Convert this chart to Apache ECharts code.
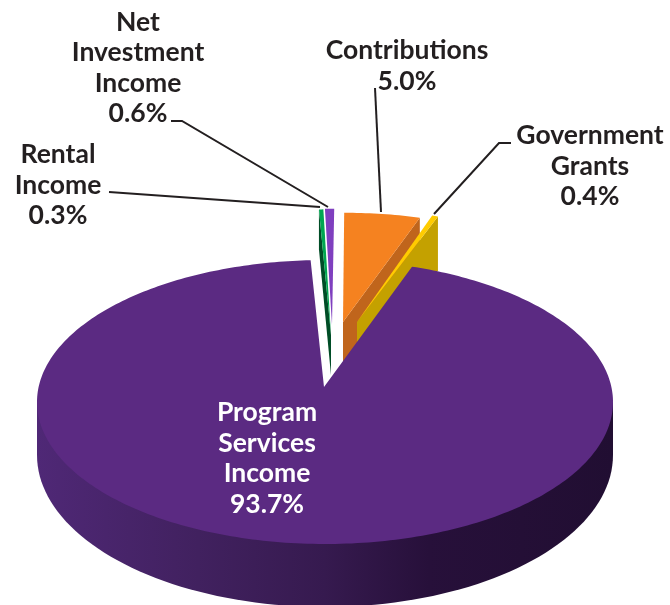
<!DOCTYPE html>
<html><head><meta charset="utf-8">
<style>html,body{margin:0;padding:0;background:#fff}#c{width:670px;height:605px}</style>
<script src="https://cdn.jsdelivr.net/npm/echarts@6/dist/echarts.min.js"></script>
</head><body><div id="c"></div>
<script>
// ---- data ----
const categories = ['Program\nServices\nIncome', 'Rental\nIncome', 'Net\nInvestment\nIncome', 'Contributions', 'Government\nGrants'];
const shares = [93.7, 0.3, 0.6, 5.0, 0.4];
const topColors = ['#5b2a82', '#00a651', '#7f3fbf', '#f58220', '#ffcc00'];
const cutColors = ['#5b2a82', '#004d26', '#7f3fbf', '#c0651c', '#c4a100'];
// ---- drawing geometry ----
const START_ANGLE = 19.5;
const CX = 325, CY = 402, RX = 288, RY = 142, TILT = 0.105;
const BASE = {cx: 325, cy: 455, rx: 288, ry: 152};
// where each slice is pulled to: apex, scale, rim shift, cut face depth at rim/apex, which edge shows its cut
const pulled = [
  {ax: 324, ay: 387, sx: 1, sy: 1, rim: 0, dr: 0, da: 0, cut: null, z: 10},
  {ax: 331, ay: 335, sx: 0.9, sy: 0.99, rim: 0, dr: 40, da: 40, cut: 'start', z: 2},
  {ax: 332, ay: 325, sx: 0.95, sy: 0.915, rim: 1, dr: 0, da: 0, cut: null, z: 4},
  {ax: 343, ay: 322, sx: 0.94, sy: 0.86, rim: 0, dr: 50, da: 50, cut: 'end', z: 6},
  {ax: 357, ay: 322, sx: 0.92, sy: 0.877, rim: 0, dr: 54, da: 54, cut: 'end', z: 8}
];
const labels = [
  {x: 267, y: 458.5, fill: '#ffffff', line: null},
  {x: 58, y: 185, fill: '#231f20', line: [[109, 192], [320, 207]]},
  {x: 138, y: 68, fill: '#231f20', line: [[171, 121], [182, 121], [328, 207]]},
  {x: 407, y: 66, fill: '#231f20', line: [[375, 88], [381, 212]]},
  {x: 590, y: 166, fill: '#231f20', line: [[511, 143], [499, 143], [434, 214]]}
];
const FONT = '700 26.5px Lato';
const LINE_H = 30.5;

function rimPoint(deg) { // projected position on the tilted disc
  const t = deg * Math.PI / 180, u = Math.sin(t), v = Math.cos(t);
  const k = 1 + TILT * v;
  const up = u * Math.sqrt(1 - TILT * TILT) / k, vp = (v + TILT) / k;
  return [CX + RX * up, CY - RY * vp];
}
const total = shares.reduce((a, b) => a + b, 0);
let acc = START_ANGLE;
const spans = shares.map(v => { const s = acc; acc += v / total * 360; return [s, acc]; });

function slice(params, api) {
  const i = params.dataIndex, p = pulled[i], [a0, a1] = spans[i];
  const A0 = [324, 387]; // the disc's own apex in picture space
  const map = q => [p.ax + (q[0] - A0[0]) * p.sx + p.rim, p.ay + (q[1] - A0[1]) * p.sy];
  const rim = [];
  const n = Math.max(2, Math.ceil(a1 - a0));
  for (let k = 0; k <= n; k++) rim.push(map(rimPoint(a0 + (a1 - a0) * k / n)));
  const children = [];
  if (i === 0) {
    const side = [[CX - RX, CY]];
    for (let d = 270; d >= 90; d -= 2) {
      const t = d * Math.PI / 180;
      side.push([BASE.cx + BASE.rx * Math.sin(t), BASE.cy - BASE.ry * Math.cos(t)]);
    }
    side.push([CX + RX, CY]);
    children.push({
      type: 'polygon', z2: 1, shape: {points: side},
      style: {fill: new echarts.graphic.LinearGradient(0, 0, 1, 0, [
        {offset: 0, color: '#4f2876'}, {offset: 0.28, color: '#41215f'},
        {offset: 0.5, color: '#361a4f'}, {offset: 0.68, color: '#27103a'}, {offset: 1, color: '#210e32'}
      ])}
    });
  }
  if (p.cut) {
    const r = p.cut === 'end' ? rim[rim.length - 1] : rim[0];
    children.push({
      type: 'polygon', z2: p.z,
      shape: {points: [[p.ax, p.ay], r, [r[0], r[1] + p.dr], [p.ax, p.ay + p.da]]},
      style: {fill: cutColors[i]}
    });
  }
  children.push({
    type: 'polygon', z2: p.z + 1,
    shape: {points: [[p.ax, p.ay]].concat(rim)},
    style: {fill: topColors[i]}
  });
  return {type: 'group', children};
}
function label(params, api) {
  const i = params.dataIndex, l = labels[i];
  const children = [{
    type: 'text', z2: 30,
    style: {
      text: categories[i] + '\n' + api.value(0).toFixed(1) + '%',
      x: l.x, y: l.y, align: 'center', verticalAlign: 'middle',
      font: FONT, lineHeight: LINE_H, fill: l.fill
    }
  }];
  if (l.line) children.push({
    type: 'polyline', z2: 29, shape: {points: l.line},
    style: {stroke: '#231f20', lineWidth: 2, fill: null}
  });
  return {type: 'group', children};
}
const seriesData = shares.map((v, i) => ({name: categories[i], value: v}));
const chart = echarts.init(document.getElementById('c'), null, {renderer: 'canvas', width: 670, height: 605});
chart.setOption({
  animation: false,
  backgroundColor: '#ffffff',
  series: [
    {type: 'custom', coordinateSystem: 'none', renderItem: slice, data: seriesData, z: 2, silent: true},
    {type: 'custom', coordinateSystem: 'none', renderItem: label, data: seriesData, z: 3, silent: true}
  ]
});
</script></body></html>
